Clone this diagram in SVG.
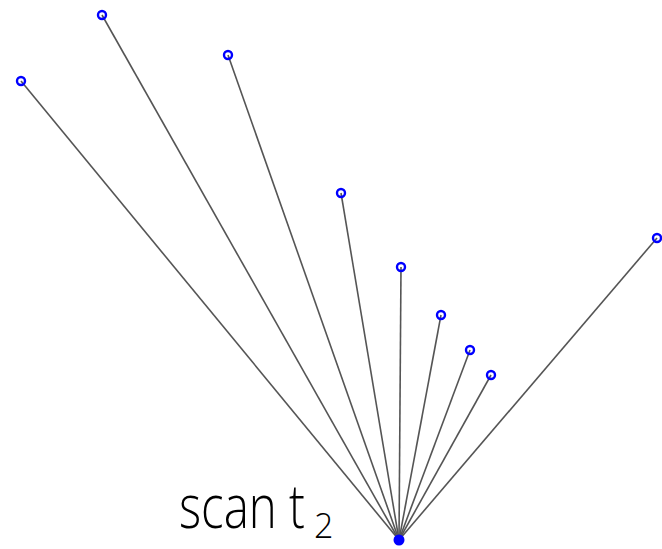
<svg xmlns="http://www.w3.org/2000/svg" width="662" height="549" viewBox="0 0 662 549">
<style>
.ray{stroke:#555;stroke-width:1.6;fill:none}
.pt{fill:none;stroke:#0000ff;stroke-width:2.4}
.lbl{font-family:"Open Sans","Liberation Sans",Arial,sans-serif;font-weight:300;fill:#000}
</style>
<rect width="662" height="549" fill="#fff"/>
<g id="connectors">
<line class="ray" x1="399" y1="540" x2="21" y2="81"/>
<line class="ray" x1="399" y1="540" x2="102" y2="15"/>
<line class="ray" x1="399" y1="540" x2="228" y2="55"/>
<line class="ray" x1="399" y1="540" x2="341" y2="193"/>
<line class="ray" x1="399" y1="540" x2="401" y2="267"/>
<line class="ray" x1="399" y1="540" x2="441" y2="315"/>
<line class="ray" x1="399" y1="540" x2="470" y2="350"/>
<line class="ray" x1="399" y1="540" x2="491" y2="375"/>
<line class="ray" x1="399" y1="540" x2="657" y2="238"/>
</g>
<g id="p1"><circle class="pt" cx="21" cy="81" r="4"/></g>
<g id="p2"><circle class="pt" cx="102" cy="15" r="4"/></g>
<g id="p3"><circle class="pt" cx="228" cy="55" r="4"/></g>
<g id="p4"><circle class="pt" cx="341" cy="193" r="4"/></g>
<g id="p5"><circle class="pt" cx="401" cy="267" r="4"/></g>
<g id="p6"><circle class="pt" cx="441" cy="315" r="4"/></g>
<g id="p7"><circle class="pt" cx="470" cy="350" r="4"/></g>
<g id="p8"><circle class="pt" cx="491" cy="375" r="4"/></g>
<g id="p9"><circle class="pt" cx="657" cy="238" r="4"/></g>
<g id="origin"><circle cx="399" cy="540" r="5.5" fill="#0000ff"/></g>
<g id="label"><text class="lbl" font-size="45" transform="translate(179,528) scale(1,1.35)" textLength="126" lengthAdjust="spacingAndGlyphs">scan t</text><text class="lbl" x="314" y="538" font-size="34">2</text></g>
</svg>
